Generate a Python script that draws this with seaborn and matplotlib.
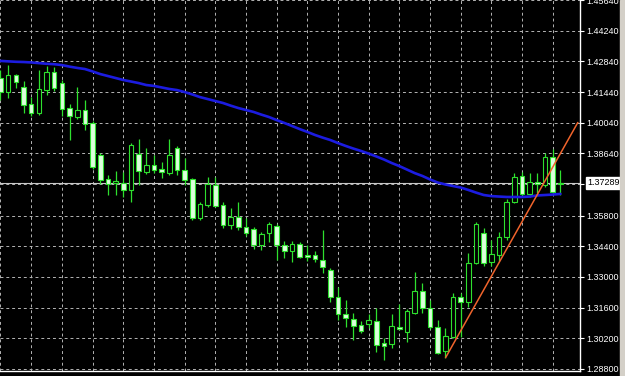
import numpy as np
import pandas as pd
import matplotlib
matplotlib.use("Agg")
import matplotlib.pyplot as plt
import seaborn as sns

# ---------------- data ----------------
opens = [1.4208, 1.4144, 1.4222, 1.4167, 1.4089, 1.4048, 1.4153, 1.4235, 1.4185, 1.4071,
         1.4030, 1.4062, 1.4003, 1.3857, 1.3747, 1.3729, 1.3729, 1.3697, 1.3861, 1.3779,
         1.3811, 1.3793, 1.3774, 1.3888, 1.3788, 1.3747, 1.3569, 1.3628, 1.3720, 1.3628,
         1.3537, 1.3574, 1.3528, 1.3519, 1.3446, 1.3501, 1.3533, 1.3446, 1.3418, 1.3450,
         1.3400, 1.3400, 1.3377, 1.3332, 1.3209, 1.3131, 1.3108, 1.3081, 1.3085, 1.3099,
         1.2999, 1.2994, 1.3072, 1.3049, 1.3135, 1.3236, 1.3158, 1.3072, 1.2962, 1.3026,
         1.3209, 1.3186, 1.3364, 1.3501, 1.3368, 1.3400, 1.3482, 1.3642, 1.3761, 1.3679,
         1.3733, 1.3720, 1.3847, 1.3726]
highs = [1.4245, 1.4267, 1.4226, 1.4194, 1.4121, 1.4245, 1.4263, 1.4258, 1.4199, 1.4089,
         1.4167, 1.4108, 1.4012, 1.3866, 1.3765, 1.3784, 1.3779, 1.3911, 1.3930, 1.3888,
         1.3857, 1.3825, 1.3930, 1.3898, 1.3843, 1.3752, 1.3642, 1.3756, 1.3756, 1.3642,
         1.3615, 1.3642, 1.3569, 1.3528, 1.3505, 1.3551, 1.3542, 1.3464, 1.3464, 1.3460,
         1.3446, 1.3418, 1.3514, 1.3341, 1.3254, 1.3195, 1.3135, 1.3099, 1.3131, 1.3158,
         1.3021, 1.3131, 1.3177, 1.3154, 1.3323, 1.3272, 1.3195, 1.3104, 1.3067, 1.3227,
         1.3227, 1.3409, 1.3551, 1.3523, 1.3469, 1.3505, 1.3656, 1.3774, 1.3779, 1.3774,
         1.3774, 1.3866, 1.3884, 1.3788]
lows = [1.4108, 1.4117, 1.4162, 1.4048, 1.4035, 1.4039, 1.4130, 1.4149, 1.4035, 1.3925,
        1.4021, 1.3971, 1.3793, 1.3724, 1.3674, 1.3674, 1.3665, 1.3642, 1.3720, 1.3770,
        1.3774, 1.3752, 1.3765, 1.3765, 1.3720, 1.3560, 1.3560, 1.3619, 1.3619, 1.3523,
        1.3519, 1.3514, 1.3487, 1.3428, 1.3423, 1.3460, 1.3377, 1.3387, 1.3368, 1.3387,
        1.3373, 1.3368, 1.3318, 1.3186, 1.3104, 1.3072, 1.3012, 1.3044, 1.3067, 1.2957,
        1.2921, 1.2976, 1.3058, 1.3003, 1.3131, 1.3135, 1.3062, 1.2948, 1.2930, 1.3021,
        1.3026, 1.3163, 1.3359, 1.3350, 1.3350, 1.3373, 1.3469, 1.3638, 1.3665, 1.3665,
        1.3683, 1.3711, 1.3679, 1.3674]
closes = [1.4144, 1.4222, 1.4190, 1.4085, 1.4048, 1.4158, 1.4235, 1.4162, 1.4067, 1.4035,
          1.4062, 1.3998, 1.3802, 1.3742, 1.3724, 1.3738, 1.3697, 1.3902, 1.3784, 1.3811,
          1.3788, 1.3779, 1.3857, 1.3788, 1.3742, 1.3569, 1.3633, 1.3724, 1.3624, 1.3537,
          1.3574, 1.3528, 1.3501, 1.3446, 1.3496, 1.3542, 1.3446, 1.3418, 1.3450, 1.3391,
          1.3391, 1.3382, 1.3345, 1.3209, 1.3131, 1.3113, 1.3076, 1.3053, 1.3104, 1.2989,
          1.2985, 1.3076, 1.3062, 1.3145, 1.3236, 1.3158, 1.3072, 1.2953, 1.3030, 1.3209,
          1.3186, 1.3364, 1.3542, 1.3364, 1.3405, 1.3482, 1.3642, 1.3756, 1.3679, 1.3733,
          1.3724, 1.3847, 1.3688, 1.37289]
ma_values = [1.4286, 1.4284, 1.4282, 1.4281, 1.4279, 1.4276, 1.4273, 1.4271, 1.4267, 1.4260,
             1.4254, 1.4249, 1.4238, 1.4226, 1.4217, 1.4208, 1.4199, 1.4192, 1.4185, 1.4176,
             1.4172, 1.4165, 1.4158, 1.4153, 1.4144, 1.4133, 1.4121, 1.4112, 1.4103, 1.4094,
             1.4082, 1.4071, 1.4062, 1.4053, 1.4041, 1.4030, 1.4016, 1.4003, 1.3989, 1.3975,
             1.3962, 1.3948, 1.3936, 1.3925, 1.3911, 1.3898, 1.3886, 1.3875, 1.3863, 1.3850,
             1.3836, 1.3820, 1.3806, 1.3790, 1.3774, 1.3761, 1.3745, 1.3731, 1.3722, 1.3715,
             1.3708, 1.3697, 1.3685, 1.3674, 1.3669, 1.3667, 1.3665, 1.3665, 1.3665, 1.3667,
             1.3672, 1.3674, 1.3676, 1.3679]
price_levels = [1.28800, 1.30200, 1.31600, 1.33000, 1.34400, 1.35800, 1.37220,
                1.38640, 1.40040, 1.41440, 1.42840, 1.44240, 1.45640]
price_labels = ["1.28800", "1.30200", "1.31600", "1.33000", "1.34400", "1.35800", "",
                "1.38640", "1.40040", "1.41440", "1.42840", "1.44240", "1.45640"]
bid_price = 1.37289
bid_label = "1.37289"
trend_x = [58, 75.3]
trend_y = [1.2930, 1.4007]

# ---------------- styling ----------------
sns.set_theme(style="dark")
plt.rcParams["font.family"] = ["Liberation Sans", "DejaVu Sans"]

W, H = 625, 376
fig = plt.figure(figsize=(W / 100, H / 100), dpi=100, facecolor="black")
ax = fig.add_axes([0, 5 / H, 580 / W, 371 / H])
ax.set_facecolor("black")

n = len(opens)
df = pd.DataFrame({"bar": np.arange(n), "open": opens, "high": highs,
                   "low": lows, "close": closes, "ma": ma_values})

x_left, x_right = -0.065, 75.55
y_bottom, y_top = 1.28708, 1.4564
ax.set_xlim(x_left, x_right)
ax.set_ylim(y_bottom, y_top)

grid_kw = dict(color="#b4b4b4", lw=0.7, linestyle=(0, (3, 3)), zorder=1)
for lv in price_levels:
    ax.axhline(lv, **grid_kw)
for b in range(0, n, 4):
    ax.axvline(b, **grid_kw)

# bid line
ax.axhline(bid_price, color="#c8c8c8", lw=0.8, zorder=2)

# candles
up = df["close"] >= df["open"]
body_low = np.minimum(df["open"], df["close"])
body_h = np.maximum(np.abs(df["close"] - df["open"]), 0.00006)
edge = "#2ee02e"
ax.vlines(df["bar"], df["low"], df["high"], color=edge, lw=0.9, zorder=3)
ax.bar(df["bar"], body_h, bottom=body_low, width=0.6,
       color=np.where(up, "black", "#dcffdc"), edgecolor=edge,
       linewidth=0.8, zorder=4)

# moving average
sns.lineplot(data=df, x="bar", y="ma", ax=ax, color="#1c1ce0", lw=1.9,
             zorder=5, legend=False)

# trend line
ax.plot(trend_x, trend_y, color="#f0642c", lw=1.1, zorder=6,
        solid_capstyle="butt")

# axes decoration
ax.set_xlabel("")
ax.set_ylabel("")
ax.set_xticks([])
ax.yaxis.tick_right()
ax.set_yticks(price_levels)
ax.set_yticklabels(price_labels)
ax.tick_params(axis="y", colors="white", labelcolor="white", labelsize=6.5,
               length=3, width=0.8, pad=1.5, direction="out")
for s in ["left", "top"]:
    ax.spines[s].set_visible(False)
for s in ["right", "bottom"]:
    ax.spines[s].set_color("white")
    ax.spines[s].set_linewidth(1)

ax.annotate(bid_label, xy=(1.0, bid_price), xycoords=("axes fraction", "data"),
            xytext=(5, 0), textcoords="offset points", va="center", ha="left",
            fontsize=6.5, color="black",
            bbox=dict(boxstyle="square,pad=0.15", fc="white", ec="white"),
            annotation_clip=False)

# window edge strip on the right
fig.patches.append(plt.Rectangle((620 / W, 0), 5 / W, 1, transform=fig.transFigure,
                                 color="#d4d0c8", zorder=0))

fig.savefig("out.png", dpi=100, facecolor="black")
